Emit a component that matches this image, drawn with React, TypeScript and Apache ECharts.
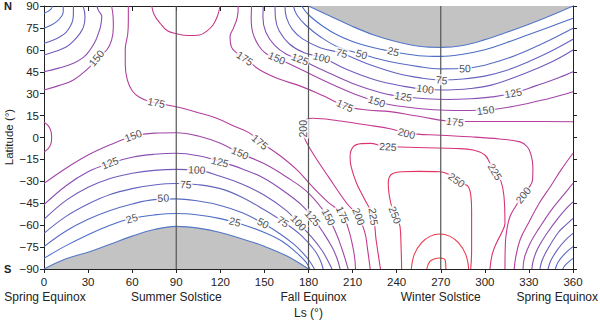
import React, { useEffect, useRef } from "react";
import * as echarts from "echarts";

type Pt = [number, number];

// ---- axes / ticks ----
const xTicks = [0, 30, 60, 90, 120, 150, 180, 210, 240, 270, 300, 330, 360];
const yTicks = [-90, -75, -60, -45, -30, -15, 0, 15, 30, 45, 60, 75, 90];
const seasonLs = [0, 90, 180, 270, 360];
const seasonNames = ["Spring Equinox", "Summer Solstice", "Fall Equinox", "Winter Solstice", "Spring Equinox"];
const seasonLines = [90, 180, 270];

// ---- polar night (zero insolation) boundaries ----
const polarNightNorth: Pt[] = [
  [180, 90], [195, 83], [210, 76], [225, 70], [240, 65.5], [255, 62.5], [270, 61.7],
  [285, 63], [300, 67], [315, 72], [330, 77.5], [345, 83.5], [360, 90],
];
const polarNightSouth: Pt[] = [
  [0, -90], [15, -83], [30, -78.5], [45, -73], [60, -67.5], [75, -63], [90, -60.8],
  [105, -62], [120, -65], [135, -69.5], [150, -74.5], [165, -81], [180, -90],
];

// ---- contour lines (Ls, latitude) ----
const contour25: Pt[][] = [
  [[0, -82.7], [15, -74], [30, -66.5], [45, -60], [60, -55.3], [75, -53], [90, -52], [105, -53], [120, -55.5], [135, -59.5], [150, -65], [162, -71], [172, -79], [178, -85], [181, -90]],
  [[0, 85], [3, 86.5], [5.2, 88.4], [5.5, 90]],
  [[175.4, 90], [180, 84], [190, 76], [200, 70], [215, 64], [237.7, 58.7], [255, 56], [270, 55.5], [285, 57], [300, 60], [315, 65], [330, 70.5], [345, 76], [360, 81.6]],
  [[353, -90], [355, -87], [360, -82.7]],
];
const contour50: Pt[][] = [
  [[0, -74.7], [15, -64], [30, -56], [45, -50], [60, -45.5], [75, -42.5], [90, -42], [105, -43.5], [120, -46.5], [135, -51.5], [149, -58.7], [160, -65.5], [170, -73], [177, -80], [181, -85], [184, -90]],
  [[0, 74.7], [5, 77], [8.6, 79.3], [12, 83], [13.1, 86], [13.1, 90]],
  [[169.7, 90], [172, 84], [178, 77], [188, 69], [200, 62], [216.2, 57.1], [235, 52], [255, 48.5], [270, 47], [286.5, 47.4], [300, 49.5], [315, 54], [330, 60], [345, 67], [360, 74.7]],
  [[348, -90], [350, -85], [355, -79], [360, -74.7]],
];
const contour75: Pt[][] = [
  [[0, -65.6], [15, -54], [30, -45.5], [45, -39], [60, -35], [75, -32.5], [90, -31.5], [105, -32.3], [120, -35], [135, -41], [150, -49.5], [163, -57.8], [175, -67], [184, -77], [188, -84], [190, -90]],
  [[0, 64.5], [6, 66.5], [10.9, 69], [15, 72], [17.7, 75.8], [19.5, 80], [20, 85], [20, 90]],
  [[164, 90], [165, 82], [169, 74], [176, 67.5], [188, 61.5], [202.6, 57.6], [220, 50.5], [240, 44], [255, 41], [270.6, 39.4], [285, 40], [300, 42], [315, 46], [330, 52], [345, 59], [360, 67.2]],
  [[343, -90], [345, -84], [350, -76], [355, -70], [360, -65.6]],
];
const contour100: Pt[][] = [
  [[0, -56], [15, -43], [30, -34], [45, -28], [60, -24.5], [75, -22.5], [90, -21.8], [104, -22.3], [120, -26.5], [135, -32], [150, -39.5], [165, -50], [173, -58.5], [182, -68], [189, -77], [193, -84], [196, -90]],
  [[0, 56.5], [8, 59], [15.4, 62.1], [20, 66], [24.5, 71.3], [27, 76], [27.9, 82.7], [26.7, 90]],
  [[157.2, 90], [157.5, 82], [160, 73], [167, 64], [177, 58], [189, 54.9], [205, 47], [225, 39.5], [245, 35], [259.3, 33], [275, 32.5], [290, 33.5], [305, 36], [320, 41], [335, 47], [348, 53], [360, 59.9]],
  [[337.5, -90], [339, -84], [343, -76], [350, -65], [355, -60], [360, -55.3]],
];
const contour125: Pt[][] = [
  [[0, -46], [15, -33], [30, -23.5], [45, -17.6], [60, -13.5], [75, -11.5], [90, -10.8], [105, -12.5], [120, -16.5], [135, -21.5], [150, -28], [165, -38], [175, -46], [183, -55], [190, -65], [196, -75], [199.5, -83], [201.5, -90]],
  [[0, 45], [10, 47.5], [20, 50.8], [27, 55], [31.3, 59.9], [35, 66], [37, 71.3], [38.5, 76], [39.3, 82.7], [37, 87], [36, 90]],
  [[149.2, 90], [149, 82], [151, 72], [157, 63], [165, 57], [174.2, 53.5], [190, 46], [210, 37], [230, 30.5], [244.5, 27.9], [260, 26.5], [275, 26], [290, 26.5], [305, 27.8], [319.4, 30.3], [335, 35.5], [348, 40], [360, 45]],
  [[332, -90], [333, -84], [336, -76], [342, -66], [350, -55], [356, -48], [360, -44]],
];
const contour150: Pt[][] = [
  [[0, -31.4], [15, -21], [30, -12], [45, -5], [61, 1], [75, 3], [90, 3.2], [105, 1], [120, -4], [133.4, -10.8], [150, -18], [165, -27], [180, -38], [193, -54], [199, -66], [203, -77], [205.5, -85], [207, -90]],
  [[0, 32.5], [10, 35.5], [20, 39.4], [31.3, 48.5], [36, 54.2], [42.7, 59.9], [46, 66.7], [47.2, 75.8], [47, 83], [46, 90]],
  [[141.3, 90], [141, 82], [142, 72], [146, 63], [151, 57.5], [158.4, 54.2], [170, 49], [185, 41.5], [200, 34.5], [212, 29.5], [226.4, 24.5], [245, 21], [265, 19], [285, 18.5], [300, 18.8], [315, 20.5], [330, 23.5], [345, 27], [360, 31.3]],
  [[326, -90], [327, -82], [331, -72], [337, -62], [345, -50], [353, -40], [360, -31.3]],
];
const contour175: Pt[][] = [
  [[57.4, 90], [57.4, 80], [57, 71], [55.3, 60], [55.3, 50], [56.7, 39.4], [60, 32], [65, 27.5], [72, 24.5], [77, 23.5], [90, 21], [105, 17], [117.5, 13.1], [130, 7.5], [140, 3], [147, -3], [160, -12], [172, -22], [182, -33], [193, -44], [202.6, -52], [207, -62], [210, -74], [211.5, -83], [212, -90]],
  [[132.2, 90], [131.5, 82], [129, 75], [126.6, 69], [127.5, 62], [131, 58], [136.8, 54.2], [147, 46.2], [160, 40], [175, 35], [190, 28.5], [204.8, 21.6], [220, 18.8], [235.5, 17.7], [255, 14.5], [279.7, 11], [300, 11], [330, 11], [360, 10.8]],
  [[0, 10.5], [3, 8], [4.8, 4], [5.2, 0], [4.8, -4], [3, -7.5], [0, -10]],
  [[320, -90], [321, -82], [324, -70], [330, -58], [337, -45], [345, -33], [352, -22], [360, -10.8]],
];
const contour200: Pt[][] = [
  [[73.3, 90], [75, 84], [79, 78.2], [84, 73], [90.3, 71], [98, 69.8], [106, 70.2], [111, 73], [115, 77], [118, 83], [119.8, 90]],
  [[222, -90], [220, -75], [218.5, -65.6], [214, -54.2], [206, -45], [193.5, -26.8], [185, -14], [179, -4], [176.5, 3], [176.5, 8.5], [178.5, 12.3], [183, 13.2], [200, 11.5], [220, 8.5], [235.5, 6], [247, 3], [270, 1.5], [290, 0.5], [310, -1], [324, -3], [329, -6.5], [331.5, -12], [332.7, -20], [332.5, -29], [329.5, -35], [326, -39.4], [321, -47], [317, -54.4], [315, -63], [314, -72], [313.7, -90]],
];
const contour225: Pt[][] = [
  [[229, -90], [226, -70], [224, -54.2], [218, -42], [212.7, -31.3], [209, -20], [208.3, -13.1], [210.5, -6.3], [216, -4.2], [222, -4], [230.7, -6], [235.5, -6.3], [260, -7], [280, -7.5], [292, -8.6], [300, -12], [303.5, -17.5], [307, -23.4], [311, -30], [313, -40], [313.7, -58.5], [311, -66], [308, -72], [305, -80], [303.5, -90]],
];
const contour250: Pt[][] = [
  [[243.4, -90], [243, -75], [242.3, -61], [239, -53], [236, -45], [234.3, -31.4], [235, -27], [237.7, -24.5], [243.4, -23.4], [255, -23.2], [269.5, -23.4], [276, -25.5], [280.8, -29], [285, -31.5], [288.8, -33.7], [290.5, -40], [291, -50], [291, -60], [291, -77.6], [290.4, -90]],
];
const contour275: Pt[][] = [
  [[250, -90], [252, -80], [257, -72], [263, -67.5], [269.5, -66], [276, -67.5], [282, -72], [287, -80], [289, -90]],
];
const contour300: Pt[][] = [
  [[260.5, -90], [262.5, -85], [266, -83], [269.5, -82.5], [273, -84], [273.5, -90]],
];

const contourLevels = [25, 50, 75, 100, 125, 150, 175, 200, 225, 250, 275, 300];
const contourData: Record<number, Pt[][]> = {
  25: contour25, 50: contour50, 75: contour75, 100: contour100, 125: contour125, 150: contour150,
  175: contour175, 200: contour200, 225: contour225, 250: contour250, 275: contour275, 300: contour300,
};

// ---- inline contour labels: [level, Ls, latitude] ----
const contourLabels: [number, number, number][] = [
  [150, 35.8, 54.2], [175, 76.5, 24], [150, 60.8, 1], [125, 45, -17.6], [100, 104, -22.3],
  [75, 96.5, -32], [50, 81.2, -41.6], [25, 59.7, -55.3], [25, 130, -57.6], [50, 149, -58.7],
  [75, 162.6, -57.8], [100, 173, -58.5], [125, 183, -55], [150, 193.5, -54.5], [175, 203, -53],
  [200, 214, -54.2], [225, 224, -54.2], [250, 239, -53], [175, 147, -3], [150, 133.4, -10.8],
  [125, 119.8, -16.6], [175, 136.8, 54.2], [150, 158.4, 54.2], [125, 174.2, 53.5], [100, 189, 54.9],
  [75, 202.6, 57.6], [50, 216.2, 57.1], [25, 237.7, 58.7], [175, 204.8, 21.6], [150, 226.4, 24.5],
  [125, 244.5, 27.9], [100, 259.3, 33], [75, 270.6, 39.4], [50, 286.5, 47.4], [125, 319.4, 30.3],
  [150, 300.5, 18.8], [175, 279.7, 10.5], [200, 246.8, 3], [200, 176.5, 6], [225, 234, -6.5],
  [225, 307, -23.4], [250, 280.8, -29], [200, 326, -39.4],
];

const levelColor: Record<number, string> = {
  0: "#5577c8", 25: "#4d6ec6", 50: "#586bc3", 75: "#6464bf", 100: "#735bba", 125: "#8b4fb2",
  150: "#a047a8", 175: "#b43f9c", 200: "#c7388b", 225: "#d93574", 250: "#e5345d", 275: "#ec3a4b", 300: "#ef3d42",
};

const GRID = { left: 44, right: 27, top: 6, bottom: 53 };
const W = 600, H = 322;
const FONT = "'Liberation Sans', Arial, Helvetica, sans-serif";

function labelAngle(level: number, ls: number, lat: number): number {
  const kx = (W - GRID.left - GRID.right) / 360;
  const ky = (H - GRID.top - GRID.bottom) / 180;
  const px = ls * kx, py = lat * ky;
  let best = Infinity, ang = 0;
  for (const seg of contourData[level]) {
    for (let i = 0; i < seg.length - 1; i++) {
      const ax = seg[i][0] * kx, ay = seg[i][1] * ky;
      const bx = seg[i + 1][0] * kx, by = seg[i + 1][1] * ky;
      const dx = bx - ax, dy = by - ay;
      const len2 = dx * dx + dy * dy || 1;
      let t = ((px - ax) * dx + (py - ay) * dy) / len2;
      t = Math.max(0, Math.min(1, t));
      const qx = ax + t * dx, qy = ay + t * dy;
      const d = (qx - px) ** 2 + (qy - py) ** 2;
      if (d < best) { best = d; ang = Math.atan2(dy, dx) * 180 / Math.PI; }
    }
  }
  if (ang > 90) ang -= 180;
  if (ang <= -90) ang += 180;
  return ang;
}

export default function App() {
  const ref = useRef<HTMLDivElement>(null);
  useEffect(() => {
    if (!ref.current) return;
    const chart = echarts.init(ref.current, null, { renderer: "svg" });
    const series: any[] = [];

    series.push({
      type: "line", data: polarNightNorth, smooth: 0.4, showSymbol: false, silent: true,
      lineStyle: { color: levelColor[0], width: 1.1 },
      areaStyle: { origin: "end", color: "#c3c3c3", opacity: 1 }, z: 2,
    });
    series.push({
      type: "line", data: polarNightSouth, smooth: 0.4, showSymbol: false, silent: true,
      lineStyle: { color: levelColor[0], width: 1.1 },
      areaStyle: { origin: "start", color: "#c3c3c3", opacity: 1 }, z: 2,
    });

    for (const lv of contourLevels) {
      for (const seg of contourData[lv]) {
        series.push({
          type: "line", data: seg, smooth: 0.4, showSymbol: false, silent: true,
          lineStyle: { color: levelColor[lv], width: 1.1 }, z: 3,
        });
      }
    }

    for (const v of seasonLines) {
      series.push({
        type: "line", data: [[v, -90], [v, 90]], showSymbol: false, silent: true,
        lineStyle: { color: "#555", width: 1.2 }, z: 4,
      });
    }

    series.push({
      type: "scatter", symbolSize: 0, silent: true, z: 10,
      data: contourLabels.map(([lv, ls, lat]) => ({
        value: [ls, lat],
        label: {
          show: true, position: "inside", formatter: String(lv),
          rotate: labelAngle(lv, ls, lat),
          fontSize: 10.5, fontFamily: FONT, color: "#222",
          backgroundColor: "#fff", padding: [0, 1],
        },
      })),
    });

    const kx = (W - GRID.left - GRID.right) / 360;
    const graphics: any[] = seasonNames.map((name, i) => {
      const isLast = i === seasonNames.length - 1;
      return {
        type: "text",
        x: isLast ? 598 : GRID.left + seasonLs[i] * kx + (i === 0 ? 1 : i === 2 ? 5 : 0),
        y: 297,
        style: {
          text: name, fill: "#222", font: `12px ${FONT}`,
          align: isLast ? "right" : "center", verticalAlign: "middle",
        },
      };
    });
    graphics.push({ type: "text", x: 4, y: GRID.top, style: { text: "N", fill: "#222", font: `bold 11px ${FONT}`, verticalAlign: "middle" } });
    graphics.push({ type: "text", x: 4, y: H - GRID.bottom, style: { text: "S", fill: "#222", font: `bold 11px ${FONT}`, verticalAlign: "middle" } });
    graphics.push({
      type: "text", x: 9, y: 137, rotation: Math.PI / 2,
      style: { text: "Latitude (°)", fill: "#222", font: `11.5px ${FONT}`, align: "center", verticalAlign: "middle" },
    });

    chart.setOption({
      animation: false,
      backgroundColor: "#fff",
      grid: { ...GRID, containLabel: false, outerBoundsMode: "none" },
      xAxis: [
        {
          type: "value", min: 0, max: 360, interval: 30, position: "bottom",
          name: "Ls (°)", nameLocation: "middle", nameGap: 38,
          nameTextStyle: { fontSize: 12, fontFamily: FONT, color: "#222" },
          axisLine: { show: true, onZero: false, lineStyle: { color: "#222", width: 1 } },
          axisTick: { show: true, inside: false, length: 4, lineStyle: { color: "#222" } },
          axisLabel: { fontSize: 11.5, fontFamily: FONT, color: "#222", margin: 7 },
          splitLine: { show: false },
        },
        {
          type: "value", min: 0, max: 360, interval: 30, position: "top",
          axisLine: { show: true, onZero: false, lineStyle: { color: "#222", width: 1 } },
          axisTick: { show: true, inside: true, length: 5, lineStyle: { color: "#222" } },
          axisLabel: { show: false }, splitLine: { show: false },
        },
      ],
      yAxis: [
        {
          type: "value", min: -90, max: 90, interval: 15, position: "left",
          axisLine: { show: true, onZero: false, lineStyle: { color: "#222", width: 1 } },
          axisTick: { show: true, inside: false, length: 4, lineStyle: { color: "#222" } },
          axisLabel: {
            fontSize: 11.5, fontFamily: FONT, color: "#222", margin: 5,
            formatter: (v: number) => (v < 0 ? "\u2212" + Math.abs(v) : String(v)),
          },
          splitLine: { show: false },
        },
        {
          type: "value", min: -90, max: 90, interval: 15, position: "right",
          axisLine: { show: true, onZero: false, lineStyle: { color: "#222", width: 1 } },
          axisTick: { show: true, inside: false, length: 4, lineStyle: { color: "#222" } },
          axisLabel: { show: false }, splitLine: { show: false },
        },
      ],
      series,
      graphic: graphics,
    });
    return () => chart.dispose();
  }, []);
  return <div ref={ref} style={{ position: "fixed", left: 0, top: 0, width: W, height: H }} />;
}
